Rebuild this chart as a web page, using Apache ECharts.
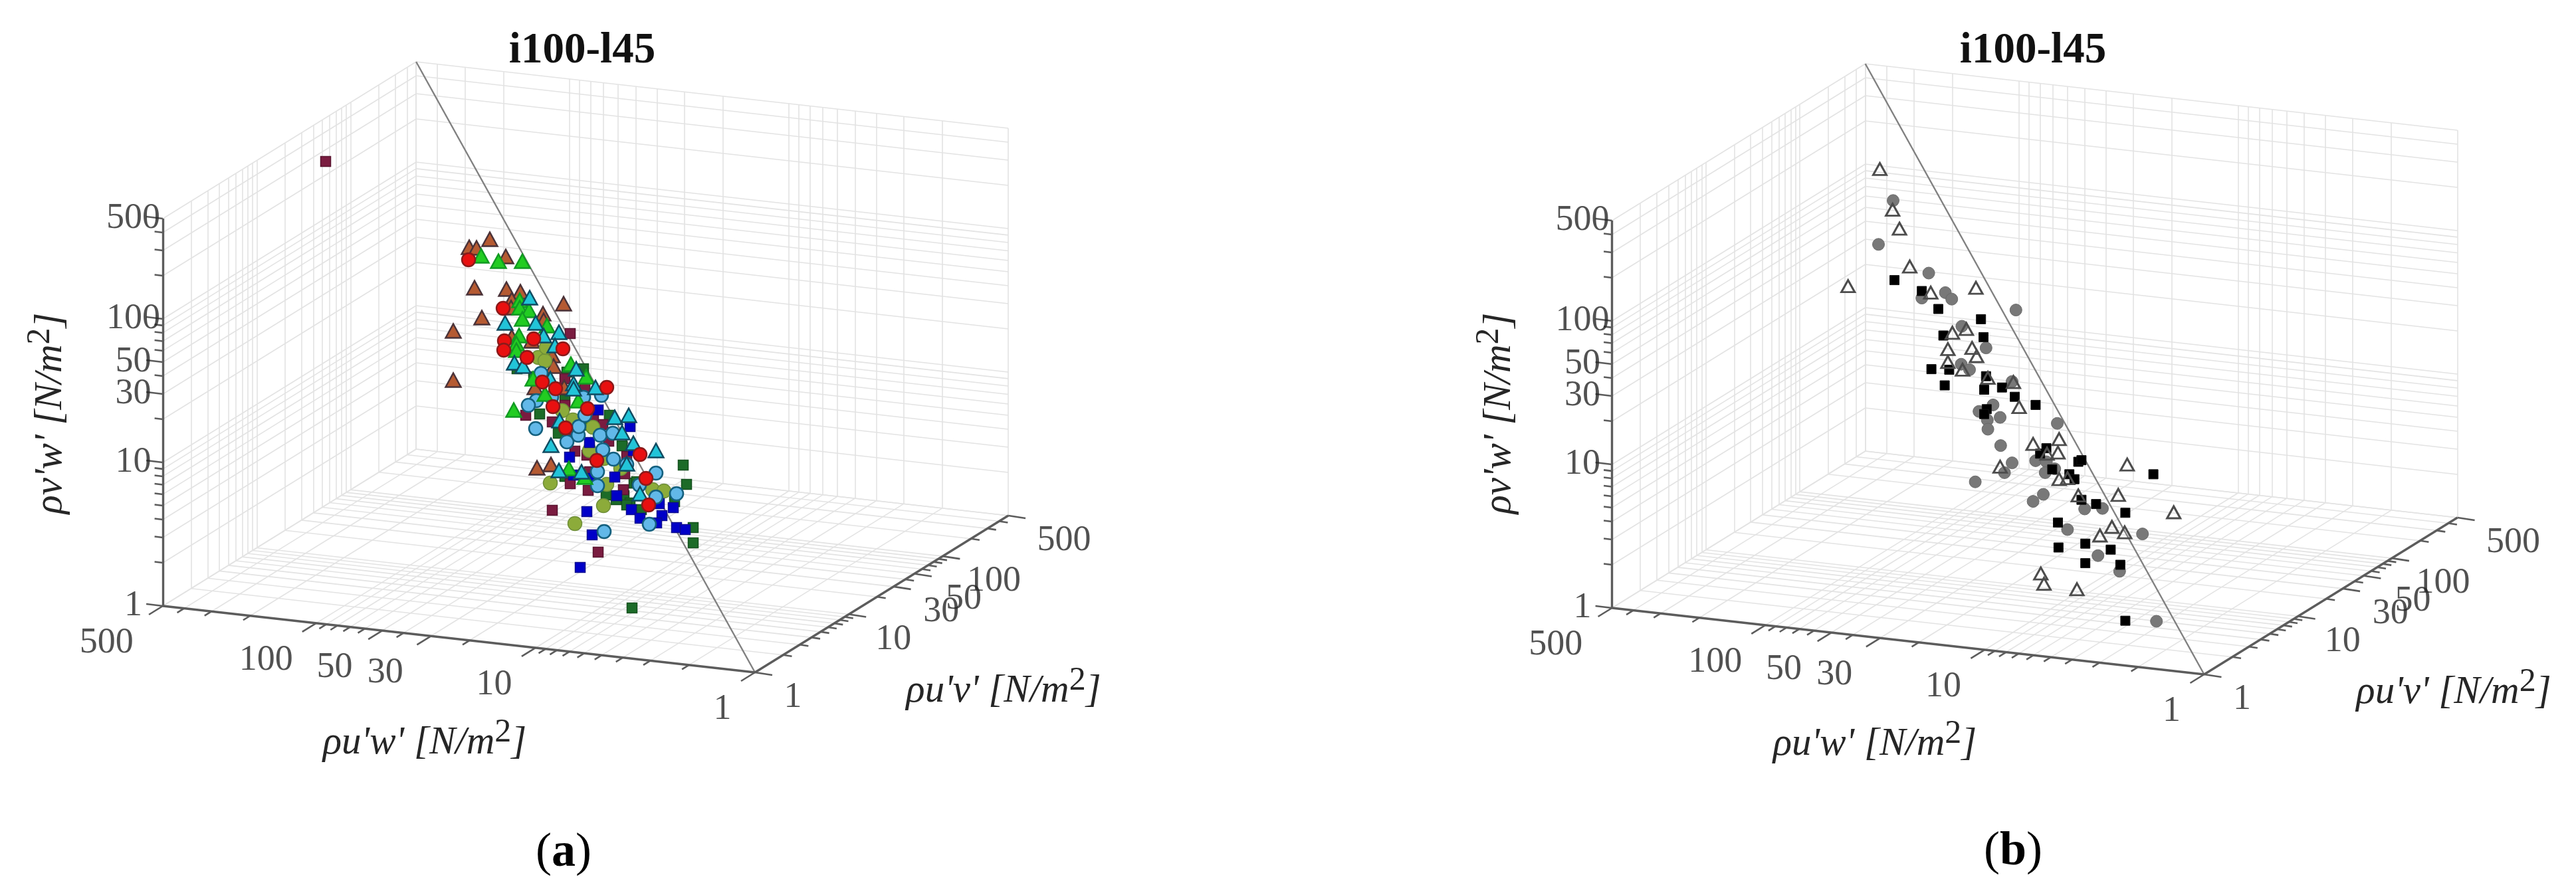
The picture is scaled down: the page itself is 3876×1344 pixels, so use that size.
<!DOCTYPE html>
<html>
<head>
<meta charset="utf-8">
<title>i100-l45</title>
<style>
html,body{margin:0;padding:0;background:#fff}
#chart{width:3876px;height:1344px;filter:blur(0.6px)}
</style>
<script src="https://cdn.jsdelivr.net/npm/echarts@6/dist/echarts.min.js"></script>
</head>
<body>
<div id="chart"></div>
<script>
// Tick values of the three log axes.
const logTicks = [1,2,3,4,5,6,7,8,9,10,20,30,40,50,60,70,80,90,100,200,300,400,500];
const labeledTicks = [1,10,30,50,100,500];
const chartTitle = 'i100-l45';
const axisNameUW = "\u03c1u'w' [N/m";
const axisNameUV = "\u03c1u'v' [N/m";
const axisNameVW = "\u03c1v'w' [N/m";

// Marks cannot be fully unprojected from a flat picture, so each one is read
// as two readings on the projected plane: [decades along the floor diagonal, apparent height].
// Panel (a)
const brownTriangles = [[1.995,3.26],[2.15,3.2],[2.095,3.195],[1.875,3.13],[2.11,2.895],[1.87,2.885],[1.765,2.865],[1.83,2.805],[1.835,2.745],[1.44,2.775],[1.595,2.7],[1.59,2.65],[2.055,2.67],[2.27,2.57],[1.83,2.525],[1.68,2.495],[1.525,2.385],[1.515,2.305],[2.27,2.2],[1.655,2.145],[1.435,2.145],[1.535,1.565],[1.64,1.54]];
const greenTriangles = [[2.06,3.135],[1.93,3.095],[1.75,3.095],[1.77,2.8],[1.77,2.745],[1.7,2.725],[1.75,2.66],[1.565,2.61],[1.775,2.535],[1.795,2.475],[1.795,2.425],[1.385,2.32],[1.27,2.225],[1.815,1.975],[1.58,2.095],[1.33,2.045],[1.67,2.21],[1.4,1.535],[1.28,1.47]];
const cyanTriangles = [[1.695,2.82],[1.88,2.63],[1.65,2.63],[1.59,2.535],[1.475,2.56],[1.505,2.46],[1.81,2.33],[1.745,2.305],[1.345,2.285],[1.54,2.21],[1.365,2.175],[1.365,2.135],[1.2,2.145],[1.055,1.92],[0.95,1.935],[1.0,1.805],[0.915,1.725],[0.745,1.67],[1.535,1.71],[1.47,1.895],[0.965,1.57],[1.475,1.52],[1.305,1.51],[0.865,1.345]];
const redCircles = [[2.155,3.105],[1.895,2.74],[1.885,2.495],[1.89,2.425],[1.715,2.37],[1.665,2.51],[1.445,2.435],[1.6,2.185],[1.5,2.135],[1.115,2.145],[1.52,2.0],[1.26,1.985],[1.425,1.84],[0.865,1.64],[1.19,1.595],[0.82,1.46],[0.8,1.26]];
const skyCircles = [[1.61,2.25],[1.645,2.045],[1.705,2.01],[1.65,1.835],[1.415,1.735],[1.33,1.785],[1.325,1.85],[1.165,1.785],[1.07,1.8],[1.155,2.085],[1.29,2.07],[1.145,1.675],[1.065,1.605],[0.965,1.565],[1.185,1.51],[1.185,1.405],[1.53,2.07],[1.28,1.935],[0.745,1.5],[0.87,1.41],[0.745,1.32],[0.59,1.345],[1.135,1.06],[0.795,1.115]];
const oliveCircles = [[1.63,2.37],[1.58,2.345],[1.57,2.445],[1.45,1.97],[1.37,1.9],[1.22,1.845],[1.245,1.67],[1.135,1.61],[1.01,1.535],[1.115,1.415],[1.54,1.425],[1.14,1.255],[1.355,1.12],[0.77,1.375],[0.685,1.365]];
const maroonSquares = [[3.23,3.845],[1.39,2.55],[1.725,1.935],[1.525,1.885],[1.355,1.665],[1.39,1.42],[1.255,1.37],[1.145,1.865],[1.1,1.74],[1.265,1.635],[0.965,1.625],[0.99,1.375],[1.245,1.51],[0.98,1.495],[1.43,2.01],[1.38,1.82],[1.43,2.21],[1.28,2.135],[1.215,1.91],[1.525,1.22],[1.18,0.905]];
const darkGreenSquares = [[1.29,2.285],[1.62,1.945],[1.43,2.05],[1.48,1.8],[1.0,1.705],[1.095,1.935],[1.79,2.285],[1.665,2.225],[1.415,2.26],[1.28,1.86],[1.12,1.335],[0.985,1.33],[0.91,1.425],[1.43,1.475],[1.245,1.675],[0.54,1.56],[0.515,1.415],[1.045,1.3],[0.94,1.275],[0.965,1.26],[0.855,1.225],[0.89,1.435],[0.605,1.285],[0.465,1.09],[0.465,0.975],[0.925,0.485]];
const blueSquares = [[1.18,1.975],[0.94,1.85],[1.245,1.73],[1.395,1.62],[1.365,1.485],[1.055,1.47],[1.24,1.46],[0.915,1.67],[1.04,1.33],[1.265,1.21],[1.225,1.035],[0.93,1.225],[0.865,1.16],[0.7,1.18],[0.74,1.125],[0.615,1.24],[0.59,1.09],[0.525,1.075],[0.72,1.27],[1.315,0.79]];
// Panel (b)
const hollowTriangles = [[2.44,3.803],[2.344,3.497],[2.292,3.354],[2.215,3.069],[2.679,2.922],[2.057,2.873],[1.717,2.909],[1.894,2.571],[1.789,2.599],[1.928,2.448],[1.746,2.457],[1.712,2.395],[1.928,2.351],[1.818,2.293],[1.627,2.232],[1.435,2.2],[1.392,2.012],[1.287,1.734],[1.091,1.771],[1.1,1.669],[1.535,1.563],[1.091,1.469],[1.028,1.477],[0.947,1.347],[0.579,1.579],[0.646,1.351],[0.229,1.22],[0.694,1.11],[0.784,1.045],[0.598,1.069],[1.229,0.759],[1.205,0.682],[0.957,0.641],[1.182,1.661]];
const grayCircles = [[2.34,3.566],[2.45,3.236],[2.072,3.02],[2.124,2.832],[1.947,2.873],[1.899,2.824],[1.823,2.62],[1.641,2.457],[1.828,2.334],[1.765,2.293],[1.416,2.742],[1.445,2.204],[1.588,2.028],[1.694,1.979],[1.631,1.914],[1.535,1.934],[1.627,1.845],[1.105,1.889],[1.531,1.722],[1.445,1.592],[1.268,1.608],[1.187,1.6],[1.502,1.518],[1.722,1.449],[1.196,1.518],[1.124,1.547],[1.287,1.302],[1.21,1.355],[0.899,1.245],[0.765,1.249],[1.028,1.09],[0.464,1.057],[0.799,0.894],[0.636,0.776],[0.359,0.4]];
const blackSquares = [[2.33,2.967],[2.124,2.885],[2.0,2.75],[1.679,2.673],[1.66,2.538],[1.962,2.55],[2.052,2.297],[1.918,2.293],[1.952,2.175],[1.641,2.244],[1.655,2.142],[1.521,2.159],[1.425,2.089],[1.268,2.028],[1.636,1.996],[1.655,1.959],[1.187,1.702],[1.234,1.661],[1.143,1.543],[1.014,1.506],[0.976,1.469],[0.947,1.6],[0.923,1.612],[0.382,1.506],[0.923,1.314],[0.813,1.282],[0.593,1.216],[1.1,1.143],[1.096,0.955],[0.894,0.984],[0.703,0.939],[0.894,0.837],[0.631,0.825],[0.593,0.404]];

// Oblique view of the 3D box: how one decade of each axis moves on the projected plane.
function project(uw, uv, vw) {
  const a = Math.log10(uw), b = Math.log10(uv), c = Math.log10(vw);
  return [1.6505 * a - 0.706 * b, 0.18525 * a + 0.4372 * b + 1.08 * c];
}
const TOP = 500, LOW = 1;

function seg(p, q) { return { coords: [p, q] }; }

function gridSegments() {
  const out = [];
  logTicks.forEach(t => {
    // floor
    out.push(seg(project(t, LOW, LOW), project(t, TOP, LOW)));
    out.push(seg(project(LOW, t, LOW), project(TOP, t, LOW)));
    // wall uw = 500
    out.push(seg(project(TOP, t, LOW), project(TOP, t, TOP)));
    out.push(seg(project(TOP, LOW, t), project(TOP, TOP, t)));
    // wall uv = 500
    out.push(seg(project(t, TOP, LOW), project(t, TOP, TOP)));
    out.push(seg(project(LOW, TOP, t), project(TOP, TOP, t)));
  });
  return out;
}

function shift(p, d, k) { return [p[0] + d[0] * k, p[1] + d[1] * k]; }

function axisSegments() {
  return [
    seg(project(LOW, LOW, LOW), project(TOP, LOW, LOW)),
    seg(project(LOW, LOW, LOW), project(LOW, TOP, LOW)),
    seg(project(TOP, LOW, LOW), project(TOP, LOW, TOP))
  ];
}

function tickSegments() {
  const out = [];
  logTicks.forEach(t => {
    const k = labeledTicks.includes(t) ? 1 : 0.5;
    const pu = project(t, LOW, LOW);
    out.push(seg(pu, shift(pu, [0.105, -0.065], k)));
    const pv = project(LOW, t, LOW);
    out.push(seg(pv, shift(pv, [-0.13, -0.02], k)));
    const pw = project(TOP, LOW, t);
    out.push(seg(pw, shift(pw, [0.125, 0.015], k)));
  });
  return out;
}

function tickLabels() {
  const out = [];
  labeledTicks.forEach(t => {
    const d = Math.log10(t);
    out.push({ value: project(t, LOW, LOW), label: { formatter: String(t), position: 'inside', offset: [-49 - 13.3 * d, 56] } });
    out.push({ value: project(LOW, t, LOW), label: { formatter: String(t), position: 'inside', offset: [57 + 10 * d, 38] } });
    out.push({ value: project(TOP, LOW, t), label: { formatter: String(t), position: 'left', distance: 44 } });
  });
  return out;
}

const serif = '"Liberation Serif", "Times New Roman", serif';
const inkText = '#262626';

function markerSeries(panel, data, symbol, size, color, border, borderWidth, z) {
  return {
    type: 'scatter', xAxisIndex: panel, yAxisIndex: panel, data: data,
    symbol: symbol, symbolSize: size, silent: true, z: z, clip: false,
    itemStyle: { color: color, borderColor: border, borderWidth: borderWidth, opacity: 1 }
  };
}

function frameSeries(panel) {
  const base = { type: 'lines', coordinateSystem: 'cartesian2d', xAxisIndex: panel, yAxisIndex: panel, silent: true, polyline: false, clip: false };
  return [
    Object.assign({}, base, { data: gridSegments(), z: 1, lineStyle: { color: '#e3e3e3', width: 1.6, opacity: 1 } }),
    Object.assign({}, base, { data: [seg(project(TOP, TOP, TOP), project(LOW, LOW, LOW))], z: 2, lineStyle: { color: '#808080', width: 2.4, opacity: 1 } }),
    Object.assign({}, base, { data: axisSegments(), z: 3, lineStyle: { color: '#5c5c5c', width: 3.4, opacity: 1 } }),
    Object.assign({}, base, { data: tickSegments(), z: 3, lineStyle: { color: '#5c5c5c', width: 2.6, opacity: 1 } }),
    {
      type: 'scatter', xAxisIndex: panel, yAxisIndex: panel, silent: true, z: 4, symbolSize: 1,
      itemStyle: { color: 'rgba(0,0,0,0)' }, data: tickLabels(),
      label: { show: true, color: inkText, fontFamily: serif, fontSize: 54, align: 'center', verticalAlign: 'middle' }
    }
  ];
}

const triSize = [23, 21];
const series = [].concat(
  frameSeries(0),
  frameSeries(1),
  [
    markerSeries(0, darkGreenSquares, 'rect', 15, '#1c6b28', '#15501f', 1.5, 5),
    markerSeries(0, maroonSquares, 'rect', 15, '#7a1c40', '#5a1530', 1.5, 5),
    markerSeries(0, brownTriangles, 'triangle', triSize, '#b55a32', '#4a3238', 2.4, 6),
    markerSeries(0, oliveCircles, 'circle', 21, '#8cab3a', '#6f8f38', 1.5, 6),
    markerSeries(0, blueSquares, 'rect', 15, '#0000c8', '#0a0a90', 1.5, 7),
    markerSeries(0, skyCircles, 'circle', 20, '#62b8e8', '#14607e', 2.6, 7),
    markerSeries(0, greenTriangles, 'triangle', triSize, '#22cc22', '#119a22', 2.4, 7),
    markerSeries(0, cyanTriangles, 'triangle', triSize, '#22c4d8', '#104a60', 2.4, 8),
    markerSeries(0, redCircles, 'circle', 20, '#e81010', '#8a1a1a', 2.4, 8),
    markerSeries(1, grayCircles, 'circle', 18, '#787878', '#6a6a6a', 1, 6),
    markerSeries(1, blackSquares, 'rect', 14, '#000000', '#111111', 1, 7),
    markerSeries(1, hollowTriangles, 'triangle', [20, 18], 'rgba(255,255,255,0)', '#4c4c4c', 3, 8)
  ]
);

function axisName(text, x, y, rotation) {
  return {
    type: 'text', x: x, y: y, rotation: rotation || 0, silent: true,
    style: {
      text: '{i|' + text + '}{s|2}{i|]}',
      align: 'center', verticalAlign: 'middle',
      rich: {
        i: { fontFamily: serif, fontStyle: 'italic', fontSize: 59, fill: inkText, color: inkText },
        s: { fontFamily: serif, fontSize: 50, fill: inkText, color: inkText, padding: [0, 0, 30, 0] }
      }
    }
  };
}

function panelLetter(letter, x, y) {
  return {
    type: 'text', x: x, y: y, silent: true,
    style: {
      text: '{r|(}{b|' + letter + '}{r|)}',
      align: 'center', verticalAlign: 'middle',
      rich: {
        r: { fontFamily: serif, fontSize: 72, fill: '#000', color: '#000' },
        b: { fontFamily: serif, fontSize: 72, fontWeight: 'bold', fill: '#000', color: '#000' }
      }
    }
  };
}

const grids = [
  { left: 136, top: 52, width: 1500, height: 1260 },
  { left: 2316.5, top: 55, width: 1500, height: 1260 }
];
const xAxes = grids.map((g, i) => ({ type: 'value', gridIndex: i, min: -2.5, max: 5, inverse: true, show: false }));
const yAxes = grids.map((g, i) => ({ type: 'value', gridIndex: i, min: -1.5, max: 4.8, show: false }));

const chart = echarts.init(document.getElementById('chart'), null, { renderer: 'canvas' });
const titleStyle = { fontFamily: serif, fontWeight: 'bold', fontSize: 65, color: '#111' };
chart.setOption({
  animation: false,
  backgroundColor: '#fff',
  title: [
    { text: chartTitle, left: 871, top: 40, textAlign: 'center', textStyle: titleStyle },
    { text: chartTitle, left: 3054, top: 40, textAlign: 'center', textStyle: titleStyle }
  ],
  grid: grids, xAxis: xAxes, yAxis: yAxes,
  series: series,
  graphic: [
    axisName(axisNameUW, 639, 1118),
    axisName(axisNameUV, 1510, 1040),
    axisName(axisNameVW, 76, 622, Math.PI / 2),
    axisName(axisNameUW, 2821, 1120),
    axisName(axisNameUV, 3692, 1042),
    axisName(axisNameVW, 2256, 622, Math.PI / 2),
    panelLetter('a', 848, 1284),
    panelLetter('b', 3029, 1282)
  ]
});
</script>
</body>
</html>
